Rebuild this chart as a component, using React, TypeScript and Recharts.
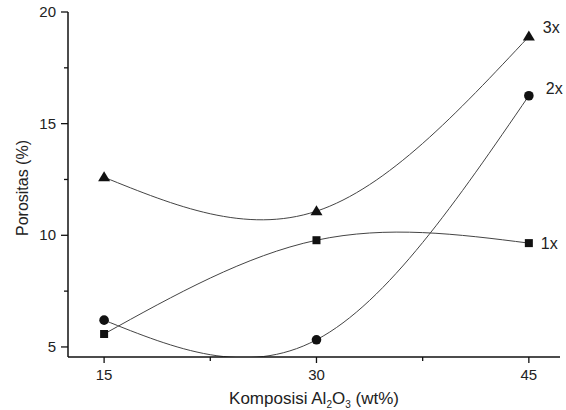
import { LineChart, Line, XAxis, YAxis } from 'recharts'

const composition = [15, 30, 45]
const series1x = [5.58, 9.78, 9.65]
const series2x = [6.2, 5.32, 16.25]
const series3x = [12.6, 11.08, 18.9]
const seriesNames = ['1x', '2x', '3x']
const xTicks = [15, 22.5, 30, 37.5, 45]
const xLabels = [15, 30, 45]
const yTicks = [5, 7.5, 10, 12.5, 15, 17.5, 20]
const yLabels = [5, 10, 15, 20]

const data = composition.map((x, i) => ({
  x,
  s1: series1x[i],
  s2: series2x[i],
  s3: series3x[i],
}))

const FONT = 'Liberation Sans, Arial, sans-serif'
const INK = '#111'

const XTick = (props: any) => {
  const { x, y, payload } = props
  const major = xLabels.includes(payload.value)
  return (
    <g>
      <line x1={x} y1={y} x2={x} y2={y + (major ? 6 : 4)} stroke={INK} strokeWidth={1.3} />
      {major && (
        <text x={x} y={y + 23} textAnchor="middle" fontSize={15} fill="#222" fontFamily={FONT}>
          {payload.value}
        </text>
      )}
    </g>
  )
}

const YTick = (props: any) => {
  const { x, y, payload } = props
  const major = yLabels.includes(payload.value)
  return (
    <g>
      <line x1={x} y1={y} x2={x - (major ? 7 : 4)} y2={y} stroke={INK} strokeWidth={1.3} />
      {major && (
        <text x={x - 12} y={y + 5} textAnchor="end" fontSize={15} fill="#222" fontFamily={FONT}>
          {payload.value}
        </text>
      )}
    </g>
  )
}

const Square = (props: any) => {
  const { cx, cy, index } = props
  return <rect key={`sq-${index}`} x={cx - 4} y={cy - 4} width={8} height={8} fill={INK} />
}

const Circle = (props: any) => {
  const { cx, cy, index } = props
  return <circle key={`ci-${index}`} cx={cx} cy={cy} r={4.8} fill={INK} />
}

const Triangle = (props: any) => {
  const { cx, cy, index } = props
  return (
    <path
      key={`tr-${index}`}
      d={`M${cx},${cy - 6} L${cx + 6},${cy + 4} L${cx - 6},${cy + 4} Z`}
      fill={INK}
    />
  )
}

const endLabel = (name: string, dx: number, dy: number) => (props: any) => {
  const { x, y, index } = props
  if (index !== composition.length - 1) return <g key={`l-${name}-${index}`} />
  return (
    <text
      key={`l-${name}-${index}`}
      x={x + dx}
      y={y + dy}
      fontSize={16}
      fill="#222"
      fontFamily={FONT}
    >
      {name}
    </text>
  )
}

export default function App() {
  return (
    <div style={{ position: 'absolute', left: 0, top: 0, background: '#fff' }}>
      <LineChart width={566} height={410} data={data} margin={{ top: 12, right: 6, left: 25, bottom: 23 }}>
        <XAxis
          dataKey="x"
          type="number"
          domain={[12.45, 47.2]}
          ticks={xTicks}
          tick={XTick}
          tickSize={0}
          tickMargin={0}
          height={30}
          axisLine={{ stroke: INK, strokeWidth: 1.5 }}
          tickLine={false}
          allowDataOverflow
        />
        <YAxis
          type="number"
          domain={[4.55, 20]}
          ticks={yTicks}
          tick={YTick}
          tickSize={0}
          tickMargin={0}
          width={43}
          axisLine={{ stroke: INK, strokeWidth: 1.5 }}
          tickLine={false}
          allowDataOverflow
        />
        <Line type="natural" dataKey="s1" stroke="#444" strokeWidth={1} dot={Square} activeDot={false} isAnimationActive={false} label={endLabel(seriesNames[0], 12, 6)} />
        <Line type="natural" dataKey="s2" stroke="#444" strokeWidth={1} dot={Circle} activeDot={false} isAnimationActive={false} label={endLabel(seriesNames[1], 17, -2)} />
        <Line type="natural" dataKey="s3" stroke="#444" strokeWidth={1} dot={Triangle} activeDot={false} isAnimationActive={false} label={endLabel(seriesNames[2], 14, -4)} />
      </LineChart>
      <svg width={566} height={410} style={{ position: 'absolute', left: 0, top: 0, pointerEvents: 'none' }}>
        <text x={314} y={404} textAnchor="middle" fontSize={17} fill="#222" fontFamily={FONT}>
          Komposisi Al
          <tspan fontSize={10} dy={4}>2</tspan>
          <tspan dy={-4}>O</tspan>
          <tspan fontSize={10} dy={4}>3</tspan>
          <tspan dy={-4}> (wt%)</tspan>
        </text>
        <text
          x={0}
          y={0}
          transform="translate(28,188) rotate(-90)"
          textAnchor="middle"
          fontSize={16}
          fill="#222"
          fontFamily={FONT}
        >
          Porositas (%)
        </text>
      </svg>
    </div>
  )
}
